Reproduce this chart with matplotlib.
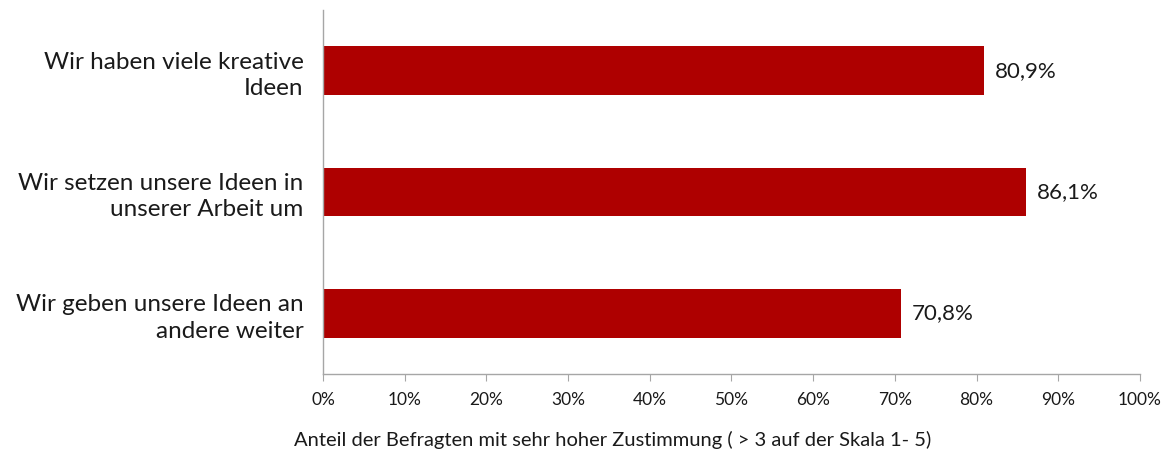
import matplotlib.pyplot as plt
from matplotlib.ticker import FuncFormatter

categories = ["Wir haben viele kreative\nIdeen",
              "Wir setzen unsere Ideen in\nunserer Arbeit um",
              "Wir geben unsere Ideen an\nandere weiter"]
values = [80.9, 86.1, 70.8]
value_labels = ["80,9%", "86,1%", "70,8%"]

plt.rcParams['font.family'] = ['Lato', 'DejaVu Sans']

fig = plt.figure(figsize=(11.68, 4.54), dpi=100)
ax = fig.add_axes([0.2765, 0.176, 0.6995, 0.802])

pos = list(range(len(categories)))
ax.barh(pos, values, height=0.4, color="#AE0000")
for p, v, lab in zip(pos, values, value_labels):
    ax.text(v + 1.3, p, lab, va='center', ha='left', fontsize=16, color='#1a1a1a')

ax.set_ylim(2.5, -0.5)
ax.set_xlim(0, 100)
ax.set_yticks(pos)
ax.set_yticklabels(categories, fontsize=17.5, ha='right', color='#1a1a1a', linespacing=1.3)
ax.tick_params(axis='y', length=0, pad=14)
ax.set_xticks(range(0, 101, 10))
ax.xaxis.set_major_formatter(FuncFormatter(lambda x, _: f"{int(x)}%"))
ax.tick_params(axis='x', length=5, color='#A6A6A6', labelsize=12.5, pad=8, labelcolor='#1a1a1a')
ax.set_xlabel("Anteil der Befragten mit sehr hoher Zustimmung ( > 3 auf der Skala 1- 5)",
              fontsize=14.5, color='#1a1a1a')
ax.xaxis.set_label_coords(0.354, -0.155)

for s in ['top', 'right']:
    ax.spines[s].set_visible(False)
for s in ['left', 'bottom']:
    ax.spines[s].set_color('#A6A6A6')
    ax.spines[s].set_linewidth(1)

fig.savefig("out.png", dpi=100)
